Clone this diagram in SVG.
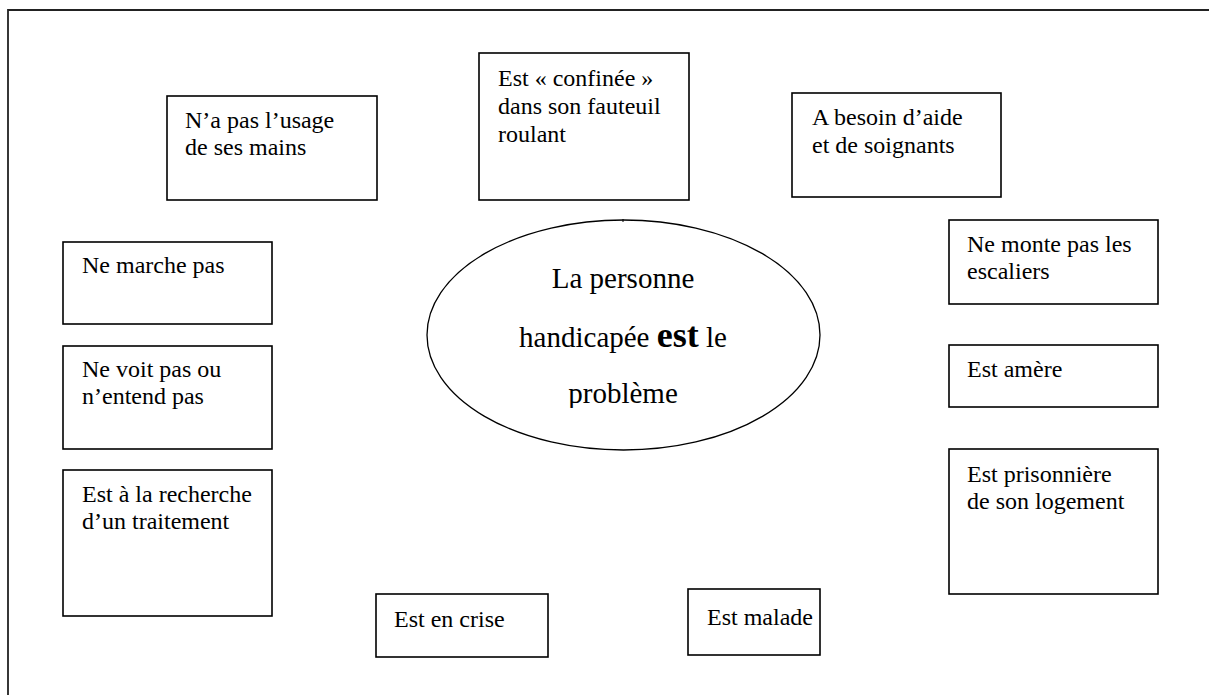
<svg xmlns="http://www.w3.org/2000/svg" width="1209" height="695" viewBox="0 0 1209 695">
<style>
.box{fill:#fff;stroke:#000;stroke-width:1.6}
.t{font-family:'Liberation Serif','Times New Roman',Times,'DejaVu Serif',serif;font-size:24px;fill:#000}
.c{font-family:'Liberation Serif','Times New Roman',Times,'DejaVu Serif',serif;font-size:29px;fill:#000;text-anchor:middle}
</style>
<defs>
<clipPath id="clipP"><rect x="400" y="200" width="450" height="208"/></clipPath>
</defs>
<rect width="1209" height="695" fill="#fff"/>
<g id="frame" fill="none" stroke="#222" stroke-width="1.8">
<path d="M8 695 V10 H1209"/>
</g>
<g id="connectors"></g>
<g id="center">
<ellipse cx="623.5" cy="335" rx="196.5" ry="115" fill="#fff" stroke="#000" stroke-width="1.3"/>
<line x1="623" y1="219" x2="623" y2="222" stroke="#000" stroke-width="1"/>
<g clip-path="url(#clipP)">
<text class="c" x="623" y="288">La personne</text>
<text class="c" x="623" y="347">handicapée <tspan font-weight="bold" font-size="36">est</tspan> le</text>
<text class="c" x="623" y="403">problème</text>
</g>
</g>
<g id="n-mains"><rect class="box" x="167" y="96" width="210" height="104"/><text class="t" x="185" y="128">N’a pas l’usage</text><text class="t" x="185" y="155">de ses mains</text></g>
<g id="n-fauteuil"><rect class="box" x="479" y="53" width="210" height="147"/><text class="t" x="498" y="86">Est « confinée »</text><text class="t" x="498" y="114">dans son fauteuil</text><text class="t" x="498" y="142">roulant</text></g>
<g id="n-aide"><rect class="box" x="792" y="93" width="209" height="104"/><text class="t" x="812" y="125">A besoin d’aide</text><text class="t" x="812" y="153">et de soignants</text></g>
<g id="n-escaliers"><rect class="box" x="949" y="220" width="209" height="84"/><text class="t" x="967" y="252">Ne monte pas les</text><text class="t" x="967" y="279">escaliers</text></g>
<g id="n-amere"><rect class="box" x="949" y="345" width="209" height="62"/><text class="t" x="967" y="377">Est amère</text></g>
<g id="n-logement"><rect class="box" x="949" y="449" width="209" height="145"/><text class="t" x="967" y="482">Est prisonnière</text><text class="t" x="967" y="509">de son logement</text></g>
<g id="n-marche"><rect class="box" x="63" y="242" width="209" height="82"/><text class="t" x="82" y="273">Ne marche pas</text></g>
<g id="n-voit"><rect class="box" x="63" y="346" width="209" height="103"/><text class="t" x="82" y="377">Ne voit pas ou</text><text class="t" x="82" y="404">n’entend pas</text></g>
<g id="n-traitement"><rect class="box" x="63" y="470" width="209" height="146"/><text class="t" x="82" y="502">Est à la recherche</text><text class="t" x="82" y="529">d’un traitement</text></g>
<g id="n-crise"><rect class="box" x="376" y="594" width="172" height="63"/><text class="t" x="394" y="627">Est en crise</text></g>
<g id="n-malade"><rect class="box" x="688" y="589" width="132" height="66"/><text class="t" x="707" y="625">Est malade</text></g>
</svg>
